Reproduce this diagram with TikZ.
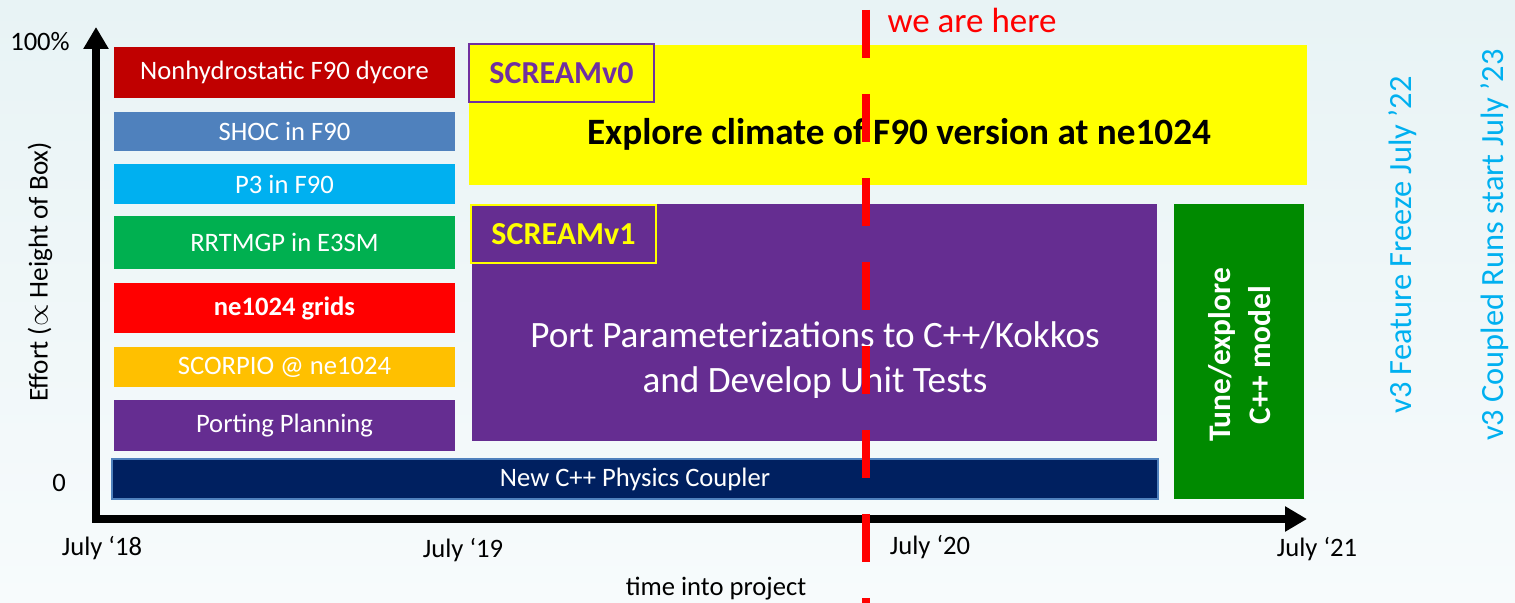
\documentclass[tikz,border=0pt]{standalone}
\usepackage{fontspec}
\setmainfont{Carlito}
\usetikzlibrary{arrows.meta}
\definecolor{nhred}{HTML}{C00000}
\definecolor{shocblue}{HTML}{4F81BD}
\definecolor{p3cyan}{HTML}{00B0F0}
\definecolor{rrgreen}{HTML}{00B050}
\definecolor{gridred}{HTML}{FF0000}
\definecolor{scorpgold}{HTML}{FFC000}
\definecolor{portpurple}{HTML}{652D91}
\definecolor{tagpurple}{HTML}{7030A0}
\definecolor{cplnavy}{HTML}{002060}
\definecolor{v0yellow}{HTML}{FFFF00}
\definecolor{tunegreen}{HTML}{008A00}
\definecolor{bgtop}{HTML}{E8F3F5}
\definecolor{bgbot}{HTML}{F7FBFC}

\begin{document}
\begin{tikzpicture}[x=.5pt,y=-.5pt,>={Triangle[width=12pt,length=11pt]},
  font=\fontsize{13.3}{15}\selectfont,
  task/.style={inner sep=0pt,text=white,minimum width=170.5pt},
  tag/.style={inner sep=0pt,line width=1pt,font=\bfseries\fontsize{16}{18}\selectfont,
    minimum width=92.5pt,minimum height=29pt},
  axis/.style={line width=4pt,<->},
  here/.style={gridred,line width=4pt,dash pattern=on 24pt off 18pt},
  milestone/.style={rotate=90,text=p3cyan,font=\fontsize{16.2}{19}\selectfont}]
\useasboundingbox (0,0) rectangle (1515,603);
\shade[top color=bgtop,bottom color=bgbot] (0,0) rectangle (1515,603);

% axes
\coordinate (ytop) at (96,27);
\coordinate (corner) at (96,519);
\coordinate (xend) at (1307,519);
\draw[axis] (ytop) -- (corner) -- (xend);
\node (full) at (40,42) {100\%};
\node (zero) at (59,483) {0};
\node[rotate=90,font=\fontsize{13.6}{15}\selectfont] (effort) at (40,272) {Effort ($\propto$ Height of Box)};
\node (t18) at (102,548) {July `18};
\node (t19) at (463,550) {July `19};
\node (t20) at (930,547) {July `20};
\node (t21) at (1317,549) {July `21};
\node (tlabel) at (716,589) {time into project};

% first year tasks
\foreach \nm/\yc/\hh/\cc/\lbl in {
  nh/72.5/25.5/nhred/Nonhydrostatic F90 dycore,
  shoc/131.5/19.5/shocblue/SHOC in F90,
  p3/184/20/p3cyan/P3 in F90,
  rrtmgp/242.5/26.5/rrgreen/RRTMGP in E3SM,
  grids/308/25/gridred/\textbf{ne1024 grids},
  scorpio/367/20/scorpgold/SCORPIO @ ne1024,
  plan/425.5/25.5/portpurple/Porting Planning}
  \node[task,fill=\cc,minimum height=\hh pt] (\nm) at (284.5,\yc) {\lbl};

\node[inner sep=0pt,fill=cplnavy,draw=shocblue,line width=1pt,text=white,
  minimum width=523pt,minimum height=20pt] (cpl) at (635,479) {New C++ Physics Coupler};

% SCREAMv0
\node[inner sep=0pt,fill=v0yellow,minimum width=419pt,minimum height=70pt] (v0) at (888,115) {};
\node[font=\bfseries\fontsize{18.6}{21}\selectfont] (v0txt) at (899,134)
  {Explore climate of F90 version at ne1024};
\node[tag,draw=tagpurple,fill=v0yellow,text=tagpurple] (v0tag) at (561.5,73) {SCREAMv0};

% SCREAMv1
\node[inner sep=0pt,fill=portpurple,minimum width=342.5pt,minimum height=118.5pt] (v1) at (814.5,322.5) {};
\node[align=center,text=white,font=\fontsize{18.6}{22.5}\selectfont] (v1txt) at (815,360)
  {Port Parameterizations to C++/Kokkos\\and Develop Unit Tests};
\node[tag,draw=v0yellow,fill=portpurple,text=v0yellow] (v1tag) at (563.5,234) {SCREAMv1};

\node[inner sep=0pt,fill=tunegreen,minimum width=65pt,minimum height=147.5pt] (tune) at (1239,351.5) {};
\node[rotate=90,align=center,text=white,font=\bfseries\fontsize{15.7}{20}\selectfont] (tunetxt)
  at (1240,355) {Tune/explore\\C++ model};

\node[milestone] (freeze) at (1403,245) {v3 Feature Freeze July ’22};
\node[milestone] (coupled) at (1495,245) {v3 Coupled Runs start July ’23};

% today
\coordinate (heretop) at (866,10);
\coordinate (herebot) at (866,615);
\draw[here] (heretop) -- (herebot);
\node[text=gridred,font=\fontsize{17.5}{20}\selectfont] (weare) at (972,20) {we are here};
\end{tikzpicture}
\end{document}
